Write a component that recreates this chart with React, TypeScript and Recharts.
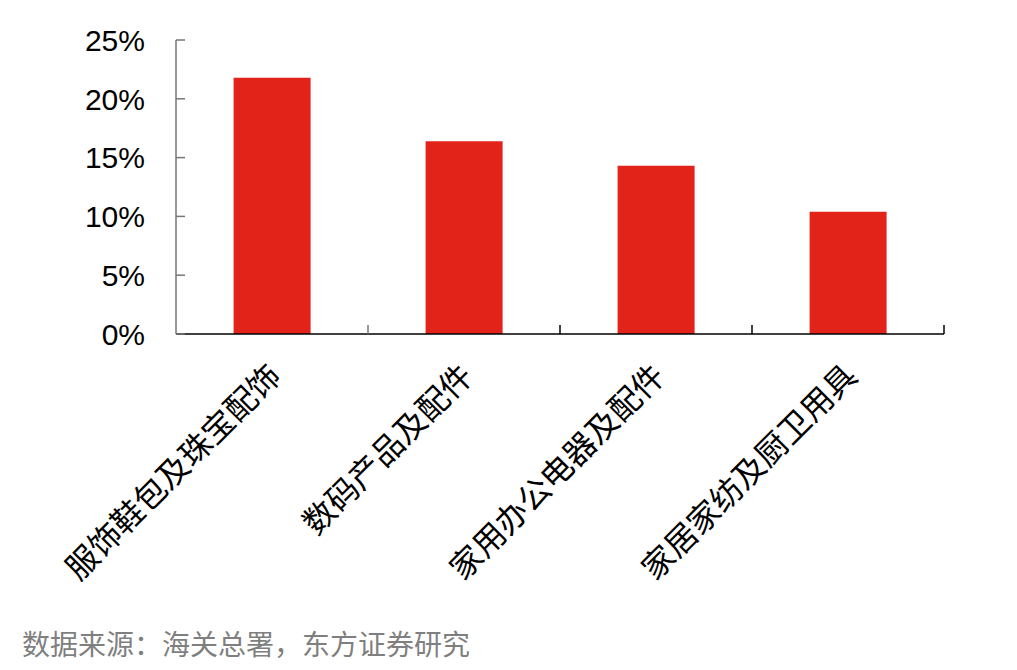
import { Bar, BarChart, Cell, XAxis, YAxis } from 'recharts'

const categories = ['服饰鞋包及珠宝配饰', '数码产品及配件', '家用办公电器及配件', '家居家纺及厨卫用具']
const shares = [21.8, 16.4, 14.3, 10.4]
const yTicks = [0, 5, 10, 15, 20, 25]
const source = '数据来源：海关总署，东方证券研究'

const data = categories.map((name, i) => ({ name, value: shares[i] }))

const BAR_RED = '#E2231A'
const CJK = '"Noto Sans CJK SC", "Noto Sans", sans-serif'
const LATIN = '"Liberation Sans", Arial, sans-serif'

// y tick: label on the left, short tick pointing into the plot
function YTick(props: any) {
  const { x, y, payload } = props
  const axisX = x + 31
  return (
    <g>
      <line x1={axisX} x2={axisX + 9} y1={y} y2={y} stroke="#767676" strokeWidth={1.5} />
      <text x={x} y={y} dy="0.36em" textAnchor="end" fontSize={30} fontFamily={LATIN} fill="#000">
        {payload.value}%
      </text>
    </g>
  )
}

// x tick: boundary tick at right edge of each band, rotated label
function XTick(props: any) {
  const { x, y, payload, index } = props
  const half = 96
  const tx = x + 11
  const ty = y + 44
  return (
    <g>
      <line
        x1={x + half}
        x2={x + half}
        y1={y}
        y2={y - 9}
        stroke={index === 0 ? '#767676' : '#000'}
        strokeWidth={1.5}
      />
      <text
        x={tx}
        y={ty}
        textAnchor="end"
        fontSize={32}
        fontFamily={CJK}
        fill="#000"
        transform={`rotate(-45, ${tx}, ${ty})`}
      >
        {payload.value}
      </text>
    </g>
  )
}

export default function App() {
  return (
    <div
      style={{
        position: 'absolute',
        left: 0,
        top: 0,
        width: 1017,
        height: 670,
        background: '#fff',
      }}
    >
      <BarChart
        width={1017}
        height={670}
        data={data}
        margin={{ top: 40, right: 73, bottom: 0, left: 0 }}
        barCategoryGap="30%"
      >
        <XAxis
          dataKey="name"
          height={336}
          tickLine={false}
          tickSize={0}
          tickMargin={0}
          axisLine={{ stroke: '#000', strokeWidth: 1.5 }}
          tick={<XTick />}
          interval={0}
        />
        <YAxis
          type="number"
          domain={[0, 25]}
          ticks={yTicks}
          width={176}
          tickLine={false}
          tickSize={0}
          tickMargin={31}
          axisLine={{ stroke: '#767676', strokeWidth: 1.5 }}
          tick={<YTick />}
          interval={0}
        />
        <Bar dataKey="value" isAnimationActive={false}>
          {data.map((d) => (
            <Cell key={d.name} fill={BAR_RED} />
          ))}
        </Bar>
      </BarChart>
      <div
        style={{
          position: 'absolute',
          left: 22,
          top: 629,
          fontSize: 28,
          lineHeight: '28px',
          fontFamily: CJK,
          color: '#7f7f7f',
          whiteSpace: 'nowrap',
        }}
      >
        {source}
      </div>
    </div>
  )
}
